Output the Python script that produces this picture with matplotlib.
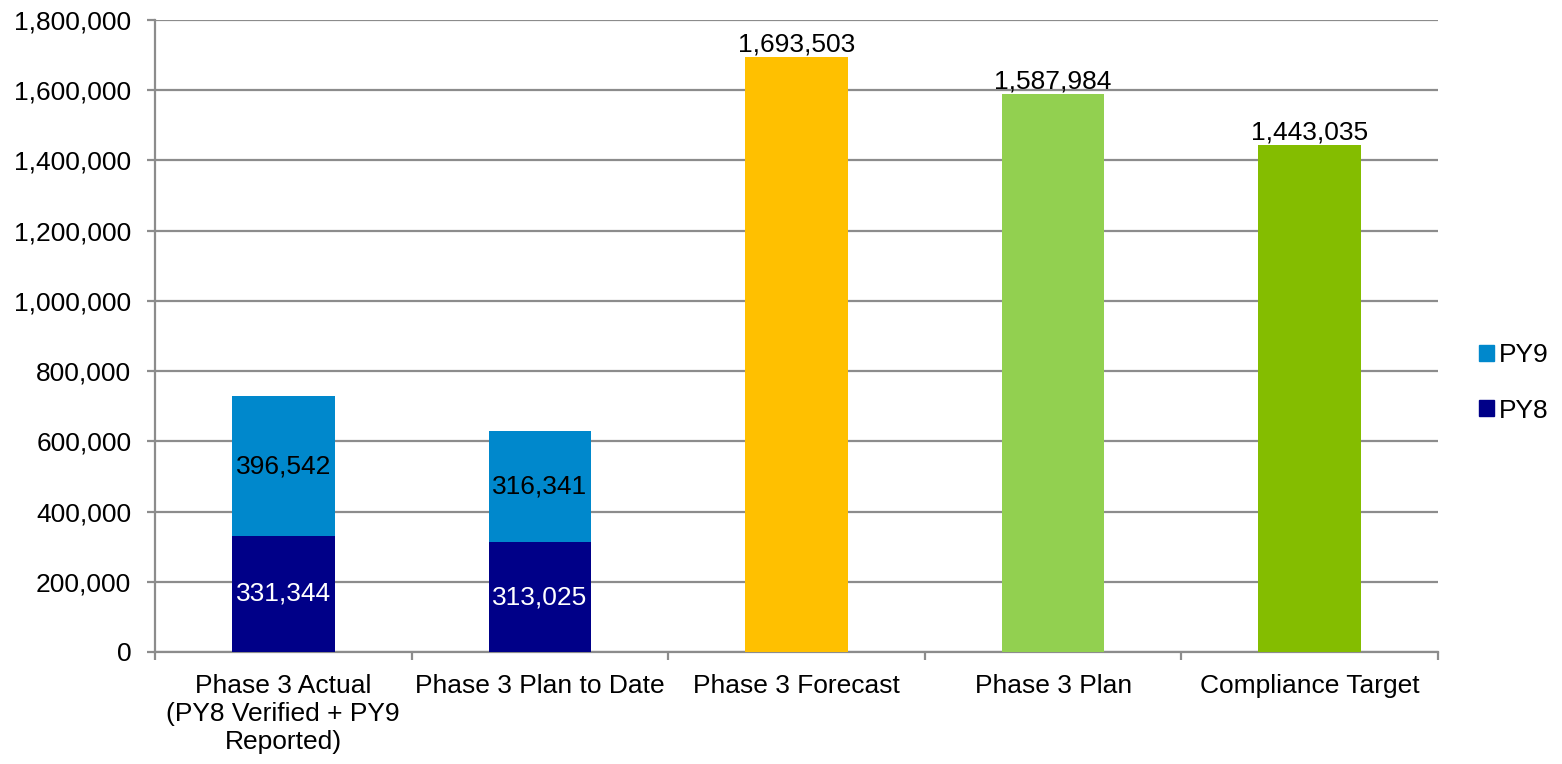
import numpy as np
import matplotlib.pyplot as plt
from matplotlib.patches import Patch
from matplotlib.ticker import FuncFormatter, MultipleLocator

plt.rcParams['font.family'] = ['Liberation Sans', 'DejaVu Sans']
fs = 19

categories = ['Phase 3 Actual\n(PY8 Verified + PY9\nReported)', 'Phase 3 Plan to Date',
              'Phase 3 Forecast', 'Phase 3 Plan', 'Compliance Target']
py8 = [331344, 313025]
py9 = [396542, 316341]
single = [1693503, 1587984, 1443035]
single_colors = ['#FFC000', '#92D050', '#84BD00']
c_py8 = '#000088'
c_py9 = '#0088CC'
grid_c = '#8C8C8C'

fig = plt.figure(figsize=(15.62, 7.64), dpi=100)
ax = fig.add_axes([0.0992, 0.1466, 0.8214, 0.8272])

w = 0.4
x = np.arange(len(categories))

# stacked bars
ax.bar(x[:2], py8, w, color=c_py8, zorder=3)
ax.bar(x[:2], py9, w, bottom=py8, color=c_py9, zorder=3)
for i in range(2):
    ax.text(x[i], py8[i] / 2, f'{py8[i]:,}', ha='center', va='center', color='white', fontsize=fs, zorder=4)
    ax.text(x[i], py8[i] + py9[i] / 2, f'{py9[i]:,}', ha='center', va='center', color='black', fontsize=fs, zorder=4)

# single bars
ax.bar(x[2:], single, w, color=single_colors, zorder=3)
for xi, v in zip(x[2:], single):
    ax.text(xi, v + 3000, f'{v:,}', ha='center', va='bottom', color='black', fontsize=fs, zorder=4)

ax.set_xlim(-0.5, len(categories) - 0.5)
ax.set_ylim(0, 1800000)
ax.yaxis.set_major_locator(MultipleLocator(200000))
ax.yaxis.set_major_formatter(FuncFormatter(lambda v, p: f'{int(v):,}'))
ax.grid(axis='y', color=grid_c, linewidth=1.6, zorder=0)

ax.set_xticks(x)
ax.set_xticklabels(categories, fontsize=fs, va='top', linespacing=1.2)
ax.set_xticks(np.arange(-0.5, len(categories)), minor=True)
ax.tick_params(axis='x', which='major', length=0, pad=16)
ax.tick_params(axis='x', which='minor', length=6, width=1.6, color=grid_c, direction='out')
ax.tick_params(axis='y', labelsize=fs, length=6, width=1.6, color=grid_c, direction='out', pad=11)

for s in ['top', 'right']:
    ax.spines[s].set_visible(False)
for s in ['left', 'bottom']:
    ax.spines[s].set_color(grid_c)
    ax.spines[s].set_linewidth(1.6)

handles = [Patch(color=c_py9, label='PY9'), Patch(color=c_py8, label='PY8')]
fig.legend(handles=handles, loc='center left', bbox_to_anchor=(0.947, 0.499), frameon=False,
           fontsize=fs, handlelength=0.55, handleheight=0.55, handletextpad=0.2, labelspacing=1.2,
           borderaxespad=0, borderpad=0)

fig.savefig('out.png', dpi=100)
